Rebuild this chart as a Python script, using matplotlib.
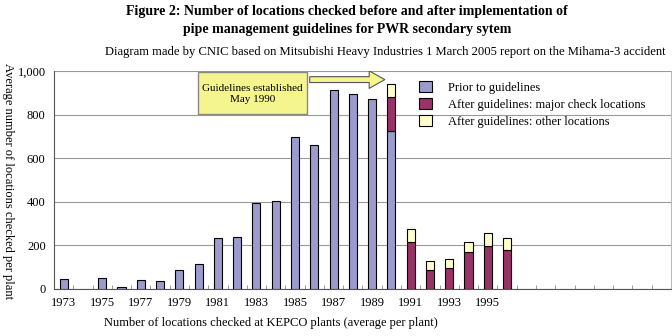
import numpy as np
import matplotlib
matplotlib.use("Agg")
import matplotlib.pyplot as plt
from matplotlib.patches import Rectangle, FancyArrowPatch
from matplotlib.ticker import FuncFormatter

plt.rcParams["font.family"] = ["Liberation Serif", "DejaVu Serif"]

# categories on the axis (1973 .. 2004)
years = list(range(1973, 2005))
tick_years = [1973, 1975, 1977, 1979, 1981, 1983, 1985, 1987, 1989, 1991, 1993, 1995]

# prior to guidelines
prior_years = list(range(1973, 1991))
prior = [46, 0, 50, 8, 41, 37, 87, 115, 234, 238, 394, 403, 696, 660, 911, 893, 870, 725]

# after guidelines
after_years = [1990, 1991, 1992, 1993, 1994, 1995, 1996]
major = [153, 214, 87, 96, 169, 197, 179]
other = [61, 61, 41, 41, 46, 59, 55]

c_prior = "#9b9bcc"
c_major = "#993366"
c_other = "#ffffcc"

fig = plt.figure(figsize=(6.72, 3.36), dpi=100)
ax = fig.add_axes([0.0804, 0.140, 0.918, 0.649])

pos = {y: i for i, y in enumerate(years)}
w = 0.42

px = [pos[y] for y, v in zip(prior_years, prior) if v > 0]
pv = [v for v in prior if v > 0]
ax.bar(px, pv, w, color=c_prior, edgecolor="black", linewidth=0.8,
       label="Prior to guidelines", zorder=3)

ax_x = [pos[y] for y in after_years]
base = [prior[prior_years.index(y)] if y in prior_years else 0 for y in after_years]
ax.bar(ax_x, major, w, bottom=base, color=c_major, edgecolor="black", linewidth=0.8,
       label="After guidelines: major check locations", zorder=3)
base2 = np.array(base) + np.array(major)
ax.bar(ax_x, other, w, bottom=base2, color=c_other, edgecolor="black", linewidth=0.8,
       label="After guidelines: other locations", zorder=3)

ax.set_xlim(-0.5, len(years) - 0.5)
ax.set_ylim(0, 1000)
ax.set_yticks(range(0, 1001, 200))
ax.yaxis.set_major_formatter(FuncFormatter(lambda v, p: f"{int(v):,}"))
ax.grid(axis="y", color="#999999", linewidth=0.8, zorder=0)

ax.set_xticks([pos[y] for y in tick_years])
ax.set_xticklabels([str(y) for y in tick_years])
ax.set_xticks(np.arange(-0.5, len(years) - 0.5, 1.0)[1:], minor=True)
ax.tick_params(axis="x", which="major", length=0, pad=6, labelsize=9)
ax.tick_params(axis="x", which="minor", direction="in", length=3, color="#888888")
ax.tick_params(axis="y", length=0, pad=6, labelsize=9)

ax.spines["top"].set_visible(False)
ax.spines["right"].set_color("#bbbbbb")
ax.spines["left"].set_color("#555555")
ax.spines["bottom"].set_color("#555555")

# annotation box and arrow
ax.add_patch(Rectangle((6.97, 803), 5.65, 192, facecolor="#f5f58f", edgecolor="#888888",
                       linewidth=1.0, zorder=5))
ax.text(9.8, 895, "Guidelines established\nMay 1990", ha="center", va="center",
        fontsize=8, linespacing=1.3, zorder=6)
arr = FancyArrowPatch((12.62, 960), (16.8, 960),
                      arrowstyle="simple,head_width=0.9,head_length=0.8,tail_width=0.3",
                      mutation_scale=14, facecolor="#f5f58f", edgecolor="#555555",
                      linewidth=0.8, zorder=5)
ax.add_patch(arr)

leg = ax.legend(loc="upper left", bbox_to_anchor=(0.592, 0.955), frameon=False, fontsize=9,
                borderaxespad=0, borderpad=0,
                handlelength=1.0, handleheight=1.0, handletextpad=1.3, labelspacing=0.35)

fig.text(0.516, 0.965, "Figure 2: Number of locations checked before and after implementation of",
         ha="center", va="center", fontsize=10, fontweight="bold")
fig.text(0.516, 0.911, "pipe management guidelines for PWR secondary sytem",
         ha="center", va="center", fontsize=10, fontweight="bold")
fig.text(0.574, 0.845, "Diagram made by CNIC based on Mitsubishi Heavy Industries 1 March 2005 report on the Mihama-3 accident",
         ha="center", va="center", fontsize=9.1)
fig.text(0.012, 0.462, "Average number of locations checked per plant", rotation=-90,
         ha="center", va="center", fontsize=9)
fig.text(0.403, 0.038, "Number of locations checked at KEPCO plants (average per plant)",
         ha="center", va="center", fontsize=9)

fig.savefig("out.png", dpi=100)
